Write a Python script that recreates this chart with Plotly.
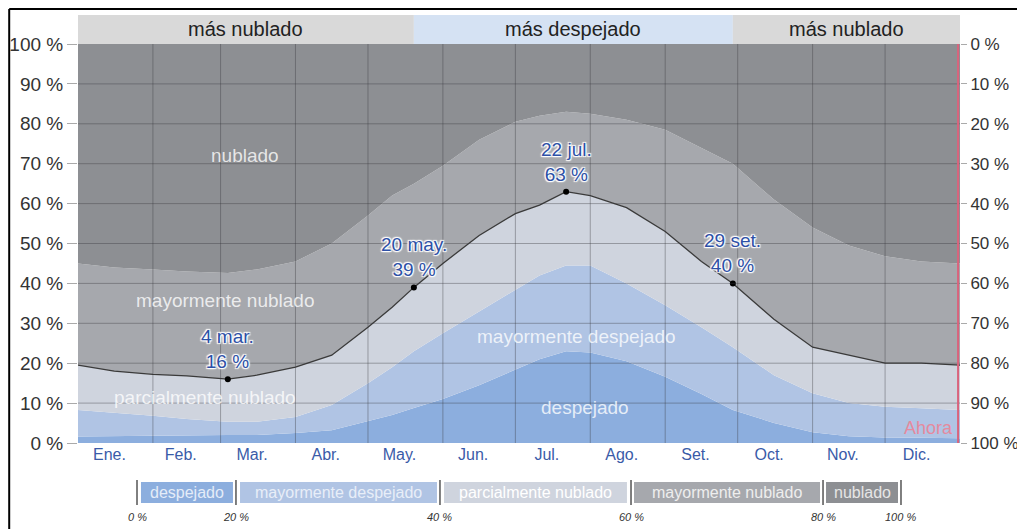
import plotly.graph_objects as go

# ---------------- data ----------------
days = [0, 15, 31, 45, 62, 74, 90, 105, 120, 130, 139, 151, 166, 181, 191, 202,
        212, 227, 243, 258, 271, 288, 304, 319, 334, 349, 365]

# cumulative upper boundary of each cloud-cover category (% of time)
top_despejado = [1.6, 1.7, 1.8, 2.0, 2.0, 2.0, 2.5, 3.2, 5.5, 7.0, 8.8, 11.0, 14.5, 18.5,
                 21.0, 23.0, 22.7, 20.5, 16.6, 12.3, 8.3, 5.0, 2.7, 1.7, 1.4, 1.3, 1.2]
top_mayormente_despejado = [8.3, 7.6, 6.8, 6.0, 5.3, 5.3, 6.5, 9.5, 15.0, 19.0, 23.0, 27.5,
                            33.0, 38.5, 42.0, 44.5, 44.5, 40.0, 34.5, 29.0, 24.0, 17.0,
                            12.5, 10.0, 9.1, 8.7, 8.3]
top_parcialmente_nublado = [19.5, 18.0, 17.2, 16.8, 16.0, 17.0, 19.0, 22.0, 29.0, 34.0, 39.0,
                            45.0, 52.0, 57.5, 59.6, 63.0, 62.0, 59.0, 53.0, 45.5, 40.0, 31.0,
                            24.0, 22.0, 20.0, 20.0, 19.5]
top_mayormente_nublado = [45.0, 44.0, 43.5, 43.0, 42.6, 43.5, 45.5, 50.0, 57.0, 62.0, 65.0,
                          69.5, 76.0, 80.5, 82.0, 83.0, 82.5, 81.0, 78.5, 74.0, 70.0, 61.0,
                          54.0, 49.5, 46.8, 45.5, 45.0]
top_nublado = [100] * len(days)

highlight_days = [62, 139, 202, 271]
highlight_values = [16, 39, 63, 40]
highlight_labels = ["4 mar.", "20 may.", "22 jul.", "29 set."]

month_starts = [0, 31, 59, 90, 120, 151, 181, 212, 243, 273, 304, 334, 365]
month_names = ["Ene.", "Feb.", "Mar.", "Abr.", "May.", "Jun.", "Jul.", "Ago.",
               "Set.", "Oct.", "Nov.", "Dic."]

season_bounds = [0, 139, 271, 365]
season_labels = ["más nublado", "más despejado", "más nublado"]

now_day = 364.2

y_ticks = [0, 10, 20, 30, 40, 50, 60, 70, 80, 90, 100]
y_ticktext = [f"{v} %" for v in y_ticks]

legend_labels = ["despejado", "mayormente despejado", "parcialmente nublado",
                 "mayormente nublado", "nublado"]
legend_pcts = ["0 %", "20 %", "40 %", "60 %", "80 %", "100 %"]

# ---------------- styles ----------------
FONT = "Liberation Sans, Arial, sans-serif"
fill_colors = ["#8caede", "#b0c4e4", "#cfd4de", "#a6a8ad", "#8d8f93"]
season_colors = ["#d9d9d9", "#d5e2f3", "#d9d9d9"]
BLUE_TEXT = "#2d50a6"
LABEL_TEXT = "rgba(255,255,255,0.78)"
GRID = "rgba(55,55,60,0.38)"

fig = go.Figure()

series = [top_despejado, top_mayormente_despejado, top_parcialmente_nublado,
          top_mayormente_nublado, top_nublado]
for i, (vals, col, name) in enumerate(zip(series, fill_colors, legend_labels)):
    fig.add_trace(go.Scatter(
        x=days, y=vals, mode="lines", name=name,
        line=dict(width=0, color=col),
        fill="tozeroy" if i == 0 else "tonexty",
        fillcolor=col, hoverinfo="skip", showlegend=False))

fig.add_trace(go.Scatter(
    x=days, y=top_parcialmente_nublado, mode="lines",
    line=dict(color="#3a3a3a", width=1.3), showlegend=False, hoverinfo="skip"))

fig.add_trace(go.Scatter(
    x=highlight_days, y=highlight_values, mode="markers",
    marker=dict(color="black", size=6), showlegend=False, hoverinfo="skip"))

# dummy on the right axis so it gets drawn
fig.add_trace(go.Scatter(x=[None], y=[None], yaxis="y2", showlegend=False))

shapes = []
# gridlines above the fills
for v in y_ticks[1:-1]:
    shapes.append(dict(type="line", xref="x", yref="y", x0=0, x1=365, y0=v, y1=v,
                       line=dict(color=GRID, width=1), layer="above"))
for d in month_starts[1:-1]:
    shapes.append(dict(type="line", xref="x", yref="y", x0=d, x1=d, y0=0, y1=100,
                       line=dict(color=GRID, width=1), layer="above"))

# season band on top
BAND_Y0, BAND_Y1 = 1.0, 1.0727
annotations = []
for i, lab in enumerate(season_labels):
    shapes.append(dict(type="rect", xref="x", yref="paper",
                       x0=season_bounds[i], x1=season_bounds[i + 1],
                       y0=BAND_Y0, y1=BAND_Y1, fillcolor=season_colors[i],
                       line=dict(width=0), layer="above"))
    annotations.append(dict(x=(season_bounds[i] + season_bounds[i + 1]) / 2,
                            y=(BAND_Y0 + BAND_Y1) / 2, xref="x", yref="paper",
                            xanchor="center", yanchor="middle",
                            text=lab, showarrow=False,
                            font=dict(family=FONT, size=20, color="#222")))

# "Ahora" line
shapes.append(dict(type="line", xref="x", yref="y", x0=now_day, x1=now_day, y0=0, y1=100,
                   line=dict(color="#d9637c", width=2), layer="above"))
annotations.append(dict(x=now_day, y=3.8, xref="x", yref="y", text="Ahora",
                        xanchor="right", yanchor="middle", xshift=-3, showarrow=False,
                        font=dict(family=FONT, size=18, color="#e58a9e")))

# region labels
region_pos = [(210, 8.8), (206.5, 26.6), (52.5, 11.3), (61, 35.8), (69, 72)]
for lab, (dx, dy) in zip(legend_labels, region_pos):
    annotations.append(dict(x=dx, y=dy, xref="x", yref="y", text=lab, showarrow=False,
                            xanchor="center", yanchor="middle",
                            font=dict(family=FONT, size=19, color=LABEL_TEXT)))

# highlight labels
halo = "1px 1px 1px #fff, -1px -1px 1px #fff, 1px -1px 1px #fff, -1px 1px 1px #fff, 0 0 3px #fff"
for d, v, lab in zip(highlight_days, highlight_values, highlight_labels):
    annotations.append(dict(x=d, y=v, xref="x", yref="y",
                            text=f"{lab}<br>{v} %", showarrow=False,
                            xanchor="center", yanchor="bottom", yshift=5,
                            font=dict(family=FONT, size=19, color=BLUE_TEXT, shadow=halo)))

# bottom legend (paper coords)
leg_boxes = [(0.0714, 0.1757), (0.1837, 0.4070), (0.4150, 0.6224), (0.6304, 0.8413),
             (0.8481, 0.9297)]
leg_seps = [0.0669, 0.1791, 0.4104, 0.6270, 0.8447, 0.9331]
box_text_colors = ["#e4ecf8", "#e8eef8", "#ffffff", "#eeeeee", "#e6e6e6"]
for (x0, x1), col, lab, tc in zip(leg_boxes, fill_colors, legend_labels, box_text_colors):
    shapes.append(dict(type="rect", xref="paper", yref="paper", x0=x0, x1=x1,
                       y0=-0.1504, y1=-0.0977, fillcolor=col, line=dict(width=0)))
    annotations.append(dict(x=(x0 + x1) / 2, y=-0.124, xref="paper", yref="paper",
                            xanchor="center", yanchor="middle",
                            text=lab, showarrow=False,
                            font=dict(family=FONT, size=16, color=tc)))
for xs, pct in zip(leg_seps, legend_pcts):
    shapes.append(dict(type="line", xref="paper", yref="paper", x0=xs, x1=xs,
                       y0=-0.1554, y1=-0.0927, line=dict(color="#555", width=1.5)))
    annotations.append(dict(x=xs, y=-0.1855, xref="paper", yref="paper",
                            xanchor="center", yanchor="middle",
                            text=f"<i>{pct}</i>", showarrow=False,
                            font=dict(family=FONT, size=11, color="#333")))

# outer frame (top and left edges of the screenshot)
shapes.append(dict(type="line", xref="paper", yref="paper", x0=-0.078, x1=1.08,
                   y0=1.0877, y1=1.0877, line=dict(color="black", width=2)))
shapes.append(dict(type="line", xref="paper", yref="paper", x0=-0.078, x1=-0.078,
                   y0=1.0877, y1=-0.22, line=dict(color="black", width=2)))

# page adds an 8px body margin, so the figure is 8px smaller and offset
fig.update_layout(
    width=1017, height=521,
    margin=dict(l=70, r=65, t=36, b=86, autoexpand=False),
    paper_bgcolor="white", plot_bgcolor="white",
    font=dict(family=FONT, size=18, color="#333"),
    showlegend=False,
    shapes=shapes, annotations=annotations,
    xaxis=dict(range=[0, 365], showgrid=False, zeroline=False, automargin=False,
               tickvals=[(a + b) / 2 for a, b in zip(month_starts[:-1], month_starts[1:])],
               ticktext=month_names, ticks="", ticklabelshift=-6,
               tickfont=dict(family=FONT, size=16, color="#3a5ba8")),
    yaxis=dict(range=[0, 100], tickvals=y_ticks, ticktext=y_ticktext, showgrid=False,
               zeroline=False, ticks="outside", ticklen=10, tickcolor="#aaa",
               automargin=False,
               tickfont=dict(family=FONT, size=19, color="#333")),
    yaxis2=dict(range=[100, 0], overlaying="y", side="right", tickvals=y_ticks,
                ticktext=y_ticktext, showgrid=False, zeroline=False, ticks="outside",
                ticklen=6, tickcolor="#aaa", automargin=False, ticklabelstandoff=0,
                tickfont=dict(family=FONT, size=17, color="#333")),
)

fig.write_html("out.html")
